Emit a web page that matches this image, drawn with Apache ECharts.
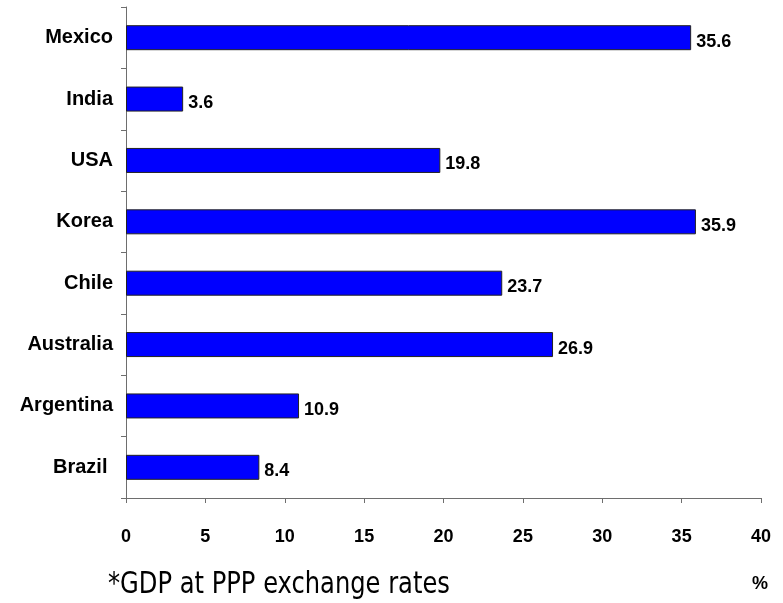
<!DOCTYPE html>
<html>
<head>
<meta charset="utf-8">
<script src="https://cdn.jsdelivr.net/npm/echarts@6/dist/echarts.min.js"></script>
<style>html,body{margin:0;padding:0;background:#fff}#c{width:783px;height:603px}</style>
</head>
<body>
<div id="c"></div>
<script>
const categories = ['Mexico', 'India', 'USA', 'Korea', 'Chile', 'Australia', 'Argentina', 'Brazil '];
const values = [35.6, 3.6, 19.8, 35.9, 23.7, 26.9, 10.9, 8.4];
const xTicks = { min: 0, max: 40, interval: 5 };
const footnote = '*GDP at PPP exchange rates';
const unitLabel = '%';

const chart = echarts.init(document.getElementById('c'), null, { renderer: 'canvas' });
const axisColor = '#6e6e6e';
chart.setOption({
  animation: false,
  backgroundColor: '#ffffff',
  grid: { left: 126, right: 22, top: 7, bottom: 105, containLabel: false },
  xAxis: {
    type: 'value',
    min: xTicks.min, max: xTicks.max, interval: xTicks.interval,
    axisLine: { show: true, lineStyle: { color: axisColor, width: 1 } },
    axisTick: { show: true, length: 5, lineStyle: { color: axisColor } },
    splitLine: { show: false },
    axisLabel: { margin: 30, fontFamily: 'Liberation Sans', fontWeight: 'bold', fontSize: 18, color: '#000' }
  },
  yAxis: {
    type: 'category',
    data: categories,
    inverse: true,
    axisLine: { show: true, lineStyle: { color: axisColor, width: 1 } },
    axisTick: { show: true, length: 5, lineStyle: { color: axisColor } },
    axisLabel: { margin: 13, fontFamily: 'Liberation Sans', fontWeight: 'bold', fontSize: 20, color: '#000' }
  },
  series: [{
    type: 'bar',
    data: values,
    barWidth: 25,
    itemStyle: { color: '#0000ff', borderColor: '#222', borderWidth: 1 },
    label: {
      show: true, position: 'right', distance: 5, offset: [0, 4],
      fontFamily: 'Liberation Sans', fontWeight: 'bold', fontSize: 18, color: '#000'
    }
  }],
  graphic: [
    {
      type: 'text', left: 108, top: 569, scaleX: 0.78,
      style: { text: footnote, font: '31px "DejaVu Sans"', fill: '#000' }
    },
    {
      type: 'text', left: 752, top: 575,
      style: { text: unitLabel, font: 'bold 18px "Liberation Sans"', fill: '#000' }
    }
  ]
});
</script>
</body>
</html>
